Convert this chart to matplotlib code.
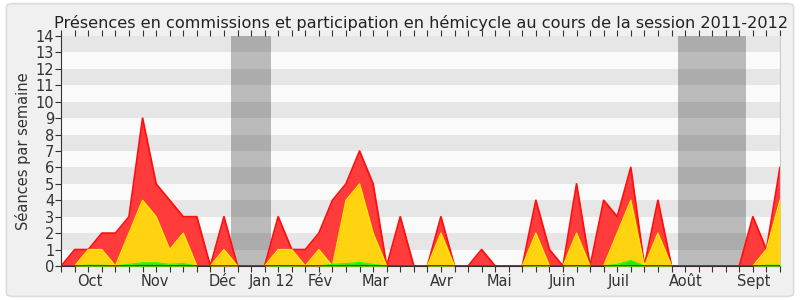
import matplotlib
matplotlib.use("Agg")
import matplotlib.pyplot as plt
from matplotlib.patches import FancyBboxPatch

# Séances par semaine, session 2011-2012 (54 semaines)
total = [0, 1, 1, 2, 2, 3, 9, 5, 4, 3, 3, 0, 3, 0, 0, 0, 3, 1, 1,
         2, 4, 5, 7, 5, 0, 3, 0, 0, 3, 0, 0, 1, 0, 0, 0, 4,
         1, 0, 5, 0, 4, 3, 6, 0, 4, 0, 0, 0, 0, 0, 0, 3, 1, 6]
hemicycle = [0, 0, 1, 1, 0, 2, 4, 3, 1, 2, 0, 0, 1, 0, 0, 0, 1, 1, 0,
             1, 0, 4, 5, 2, 0, 0, 0, 0, 2, 0, 0, 0, 0, 0, 0, 2,
             0, 0, 2, 0, 0, 2, 4, 0, 2, 0, 0, 0, 0, 0, 0, 0, 1, 4]
participation = [0, 0, 0.05, 0.05, 0, 0.1, 0.2, 0.2, 0.1, 0.15, 0, 0, 0, 0, 0, 0, 0.03, 0.03, 0,
                 0, 0.1, 0.15, 0.22, 0.1, 0, 0, 0, 0, 0.03, 0, 0, 0, 0, 0, 0, 0.03,
                 0, 0, 0.03, 0, 0, 0.1, 0.35, 0, 0.03, 0, 0, 0, 0, 0, 0, 0, 0.05, 0.05]
vacances = [(12.5, 15.5), (45.5, 50.5)]
mois = ['Oct', 'Nov', 'Déc', 'Jan 12', 'Fév', 'Mar', 'Avr', 'Mai', 'Juin', 'Juil', 'Août', 'Sept']
mois_pos = [2.1, 6.9, 11.9, 15.55, 19.1, 23.2, 28.05, 32.3, 36.95, 41.1, 46.05, 51.05]

semaines = list(range(len(total)))

fig = plt.figure(figsize=(8, 3), dpi=100)
fig.patch.set_facecolor('white')
cadre = FancyBboxPatch((0.008, 0.012), 0.984, 0.976, boxstyle="round,pad=0,rounding_size=0.01",
                       transform=fig.transFigure, facecolor='#f0f0f0', edgecolor='#dcdcdc', lw=1.2, zorder=-10)
fig.patches.append(cadre)

ax = fig.add_axes([0.0765, 0.1133, 0.8985, 0.7667])
ax.set_facecolor('#fafafa')

# bandes horizontales
for y in range(1, 14, 2):
    ax.axhspan(y, y + 1, color='#e6e6e6', lw=0, zorder=0)
# vacances parlementaires
for a, b in vacances:
    ax.axvspan(a, b, color='black', alpha=0.25, lw=0, zorder=1)

ax.fill_between(semaines, total, color='#ff3b3b', lw=0, zorder=2)
ax.plot(semaines, total, color='#ff0f0f', lw=1.3, zorder=3)
ax.fill_between(semaines, hemicycle, color='#ffd30f', lw=0, zorder=4)
ax.plot(semaines, hemicycle, color='#ffee00', lw=1, zorder=5)
ax.fill_between(semaines, participation, color='#33dd22', lw=0, zorder=6)
ax.plot(semaines, participation, color='#22ff00', lw=0.8, zorder=7)
ax.axhline(0, color='#6a2a10', lw=1.2, zorder=8)

ax.set_xlim(0, len(total) - 1)
ax.set_ylim(0, 14)
ax.set_yticks(range(0, 15))
ax.xaxis.remove_overlapping_locs = False
ax.set_xticks(semaines)
ax.set_xticklabels([])
ax.set_xticks(mois_pos, minor=True)
ax.set_xticklabels(mois, minor=True)
ax.tick_params(axis='x', which='major', direction='out', length=4, color='#333333', top=True)
ax.tick_params(axis='x', which='minor', length=0, pad=6, labelsize=10.5, labelcolor='#333333')
ax.tick_params(axis='y', direction='out', length=4, color='#333333', labelsize=10.5, labelcolor='#333333', pad=1)

ax.spines['top'].set_visible(False)
ax.spines['right'].set_color('#cccccc')
ax.spines['left'].set_color('#333333')
ax.spines['bottom'].set_color('#333333')

ax.set_ylabel('Séances par semaine', fontsize=10.5, color='#333333', labelpad=3)
ax.set_title('Présences en commissions et participation en hémicycle au cours de la session 2011-2012',
             fontsize=11.6, color='#222222', pad=6)

fig.savefig('out.png', dpi=100, facecolor=fig.get_facecolor())
